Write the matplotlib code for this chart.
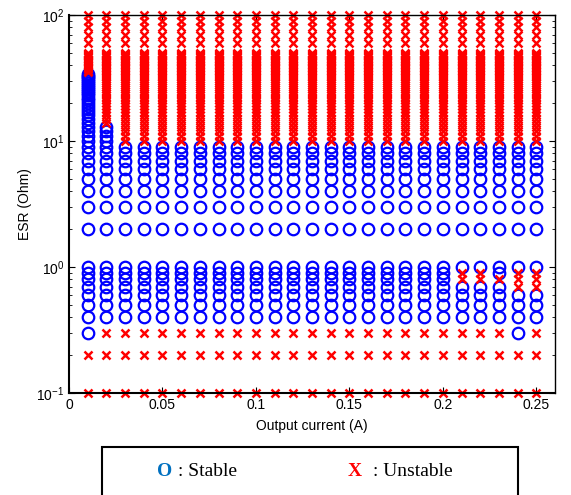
import matplotlib
matplotlib.use("Agg")
import matplotlib.pyplot as plt
from matplotlib.patches import Rectangle
from matplotlib.ticker import FixedLocator, FixedFormatter, LogLocator

plt.rcParams["font.family"] = ["Liberation Sans", "DejaVu Sans"]
plt.rcParams["mathtext.fontset"] = "custom"
plt.rcParams["mathtext.rm"] = "Liberation Sans"
plt.rcParams["mathtext.it"] = "Liberation Sans"
plt.rcParams["mathtext.default"] = "regular"

# ── datos ────────────────────────────────────────────────
corrientes = [0.01, 0.02, 0.03, 0.04, 0.05, 0.06, 0.07, 0.08, 0.09, 0.10,
              0.11, 0.12, 0.13, 0.14, 0.15, 0.16, 0.17, 0.18, 0.19, 0.20,
              0.21, 0.22, 0.23, 0.24, 0.25]

esr_valores = [0.1, 0.2, 0.3, 0.4, 0.5, 0.6, 0.7, 0.8, 0.9,
               1, 2, 3, 4, 5, 6, 7, 8, 9,
               10, 11, 12, 13, 14, 15, 16, 17, 18, 19, 20,
               21, 22, 23, 24, 25, 26, 27, 28, 29, 30,
               31, 32, 33, 34, 35, 36, 37, 38, 39, 40,
               41, 42, 43, 44, 45, 46, 47, 48, 49, 50,
               60, 70, 80, 90, 100]

# límites de la zona estable por columna de corriente
esr_estable_min = [0.3, 0.4, 0.4, 0.4, 0.4, 0.4, 0.4, 0.4, 0.4, 0.4,
                   0.4, 0.4, 0.4, 0.4, 0.4, 0.4, 0.4, 0.4, 0.4, 0.4,
                   0.4, 0.4, 0.4, 0.3, 0.4]
esr_estable_max = [34, 13, 9, 9, 9, 9, 9, 9, 9, 9,
                   9, 9, 9, 9, 9, 9, 9, 9, 9, 9,
                   9, 9, 9, 9, 9]

# puntos inestables aislados dentro de la zona estable
inestables_extra = [(0.21, 0.9), (0.21, 0.8),
                    (0.22, 0.9), (0.22, 0.8),
                    (0.23, 0.8),
                    (0.24, 0.9), (0.24, 0.8), (0.24, 0.7),
                    (0.25, 0.9), (0.25, 0.8), (0.25, 0.7)]

xtick_vals = [0, 0.05, 0.1, 0.15, 0.2, 0.25]
xtick_labels = ["0", "0.05", "0.1", "0.15", "0.2", "0.25"]

# ── clasificación ────────────────────────────────────────
est_x, est_y, ines_x, ines_y = [], [], [], []
for i, c in enumerate(corrientes):
    for r in esr_valores:
        estable = esr_estable_min[i] <= r <= esr_estable_max[i]
        if (c, r) in inestables_extra:
            estable = False
        if estable:
            est_x.append(c)
            est_y.append(r)
        else:
            ines_x.append(c)
            ines_y.append(r)

# ── figura ───────────────────────────────────────────────
fig = plt.figure(figsize=(5.71, 4.95), dpi=100)
ax = fig.add_axes([69 / 571, 1 - 393 / 495, 486 / 571, 378 / 495])

ax.plot(est_x, est_y, "o", ls="none", ms=8.3, mfc="none", mec="blue",
        mew=1.6, clip_on=False)
ax.plot(ines_x, ines_y, "x", ls="none", ms=6.3, mec="red", mew=1.8,
        clip_on=False)

ax.set_yscale("log")
ax.set_xlim(0, 0.26)
ax.set_ylim(0.1, 100)

ax.xaxis.set_major_locator(FixedLocator(xtick_vals))
ax.xaxis.set_major_formatter(FixedFormatter(xtick_labels))
ax.yaxis.set_major_locator(LogLocator(base=10, numticks=10))
ax.yaxis.set_minor_locator(LogLocator(base=10, subs=range(2, 10), numticks=20))

ax.tick_params(which="both", direction="in", top=True, right=True, labelsize=10)
ax.tick_params(which="major", length=4, width=0.8)
ax.tick_params(which="minor", length=2.5, width=0.6)
for lado in ["left", "bottom"]:
    ax.spines[lado].set_linewidth(1.5)
for lado in ["top", "right"]:
    ax.spines[lado].set_linewidth(1.0)

ax.set_xlabel("Output current (A)", fontsize=10, labelpad=5)
ax.set_ylabel("ESR (Ohm)", fontsize=10, labelpad=3)

# ── leyenda manual ───────────────────────────────────────
fig.patches.append(Rectangle((102 / 571, -0.05), 416 / 571, 0.05 + 48 / 495,
                             transform=fig.transFigure, fill=False,
                             edgecolor="black", linewidth=1.5))
ytxt = 1 - 472 / 495
serif = ["Liberation Serif", "DejaVu Serif"]
fig.text(157 / 571, ytxt, "O", color="#0070C0", fontweight="bold",
         family=serif, fontsize=14, va="center")
fig.text(178 / 571, ytxt, ": Stable", color="black",
         family=serif, fontsize=14, va="center")
fig.text(348 / 571, ytxt, "X", color="red", fontweight="bold",
         family=serif, fontsize=14, va="center")
fig.text(373 / 571, ytxt, ": Unstable", color="black",
         family=serif, fontsize=14, va="center")

fig.savefig("out.png", dpi=100)
